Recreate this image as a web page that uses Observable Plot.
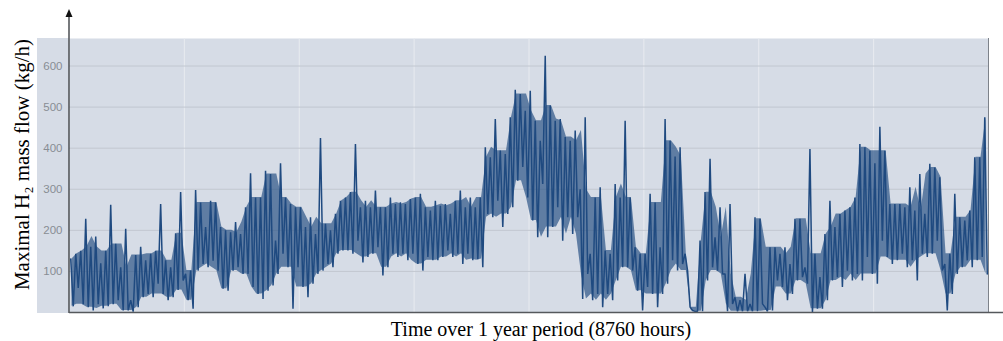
<!DOCTYPE html>
<html><head><meta charset="utf-8">
<script src="https://cdn.jsdelivr.net/npm/d3@7"></script>
<script src="https://cdn.jsdelivr.net/npm/@observablehq/plot@0.6"></script>
<style>
html,body{margin:0;padding:0;background:#fff;}
#chart{width:1003px;height:341px;}
</style></head><body><div id="chart"></div>
<script>
const totalHours = 8760;
const yMax = 667;
const yTicks = [100, 200, 300, 400, 500, 600];
const xGridHours = [1095, 2190, 3285, 4380, 5475, 6570, 7665];
const yLabel = "Maximal H₂ mass flow (kg/h)";
const xLabel = "Time over 1 year period (8760 hours)";

// Upper envelope of the hourly flow, one value per ~48-hour block (kg/h)
const peakFlow = [
  130, 143, 150, 228, 160, 185, 120, 150, 262, 167, 110, 204, 30, 140, 160, 127, 143, 150, 264, 127, 110, 193, 293,
  94, 102, 298, 268, 208, 272, 268, 208, 200, 195, 220, 191, 256, 339, 280, 280, 345, 337, 175, 363, 280, 264, 256,
  256, 208, 232, 191, 425, 216, 200, 240, 272, 280, 293, 410, 256, 272, 256, 297, 256, 256, 280, 264, 268, 264, 276,
  280, 289, 256, 248, 272, 260, 264, 240, 272, 297, 256, 280, 256, 280, 402, 378, 471, 394, 386, 475, 542, 532, 491,
  540, 467, 418, 625, 504, 467, 471, 427, 418, 443, 300, 475, 143, 280, 305, 151, 143, 313, 280, 467, 280, 159, 143,
  143, 289, 268, 159, 471, 418, 380, 402, 143, 13, 3, 175, 293, 374, 183, 256, 94, 264, 37, 30, 94, 21, 232,
  228, 13, 159, 159, 143, 159, 118, 228, 228, 110, 398, 143, 86, 191, 272, 208, 240, 248, 256, 280, 410, 402, 394,
  363, 452, 394, 264, 264, 264, 256, 305, 248, 337, 240, 362, 353, 329, 118, 143, 289, 232, 224, 248, 378, 378, 475
];
// Lower envelope of the hourly flow, same blocks (kg/h)
const lowFlow = [
  15, 60, 20, 13, 5, 20, 10, 15, 20, 30, 5, 5, 2, 13, 37, 45, 37, 70, 45, 30, 37, 55, 78,
  30, 9, 102, 118, 110, 126, 102, 58, 53, 102, 110, 94, 94, 62, 45, 33, 53, 66, 94, 143, 110, 9, 110,
  62, 37, 70, 94, 102, 118, 110, 143, 151, 151, 143, 175, 122, 135, 143, 159, 90, 110, 143, 135, 143, 127, 143,
  118, 102, 135, 127, 127, 135, 151, 135, 143, 118, 143, 127, 130, 110, 240, 232, 272, 208, 240, 256, 321, 354, 280,
  224, 183, 313, 183, 208, 256, 175, 232, 191, 232, 33, 94, 30, 45, 13, 45, 30, 78, 110, 110, 102, 53, 5,
  62, 45, 13, 45, 70, 127, 102, 118, 102, 5, 3, 3, 78, 110, 102, 94, 3, 21, 3, 3, 3, 3, 3,
  21, 3, 5, 78, 62, 30, 45, 78, 86, 70, 0, 9, 9, 30, 78, 86, 62, 102, 78, 94, 78, 135, 94,
  70, 175, 135, 118, 127, 143, 110, 127, 78, 143, 135, 143, 175, 102, 5, 45, 94, 110, 127, 110, 127, 135, 94
];

const n = peakFlow.length;
const blockHours = totalHours / n;
// zigzag through the block extremes
const series = [];
for (let i = 0; i < n; i++) {
  series.push({hour: (i + 0.25) * blockHours, flow: peakFlow[i]});
  series.push({hour: (i + 0.75) * blockHours, flow: lowFlow[i]});
}
// dense body of the daily oscillation: the same extremes with isolated spikes left to the line
const med3 = (a, i) => {
  const v = [a[Math.max(0, i - 1)], a[i], a[Math.min(a.length - 1, i + 1)]].sort((p, q) => p - q);
  return v[1];
};
const band = peakFlow.map((h, i) => {
  const top = med3(peakFlow, i), bottom = med3(lowFlow, i);
  return {hour: (i + 0.5) * blockHours, top: Math.max(top, bottom), bottom: Math.min(top, bottom)};
});

const ink = "#1f4a80";
const chart = Plot.plot({
  width: 1003, height: 341,
  marginLeft: 69, marginRight: 15, marginTop: 38, marginBottom: 29,
  style: {background: "transparent", fontFamily: "'Liberation Sans', Arial, sans-serif", overflow: "visible"},
  x: {domain: [0, totalHours], axis: null},
  y: {domain: [0, yMax], axis: null},
  marks: [
    Plot.frame({fill: "#d6dce6", stroke: null}),
    Plot.gridX(xGridHours, {stroke: "#e8ebf0", strokeOpacity: 1, strokeWidth: 1}),
    Plot.gridY(yTicks, {stroke: "#c2c7d0", strokeOpacity: 1, strokeWidth: 1}),
    Plot.axisY(yTicks, {tickSize: 0, tickPadding: 7, fill: "#888d94", fontSize: 11.5, label: null}),
    Plot.areaY(band, {x: "hour", y1: "bottom", y2: "top", fill: ink, fillOpacity: 0.65}),
    Plot.line(series, {x: "hour", y: "flow", stroke: ink, strokeWidth: 1.5, strokeLinejoin: "miter"}),
    Plot.text([yLabel], {frameAnchor: "left", rotate: -90, textAnchor: "middle", lineAnchor: "middle",
      dx: -47, dy: -11, fontSize: 21, fill: "#000", fontFamily: "'Liberation Serif', 'Times New Roman', serif"}),
    Plot.text([xLabel], {frameAnchor: "bottom", textAnchor: "middle", lineAnchor: "middle",
      dx: 12, dy: 17, fontSize: 20, fill: "#000", fontFamily: "'Liberation Serif', 'Times New Roman', serif"})
  ]
});
document.getElementById("chart").appendChild(chart);

// panel extension, axis lines and arrow
const svg = d3.select(chart);
const xs = chart.scale("x"), ys = chart.scale("y");
const x0 = xs.apply(0), xEnd = xs.apply(totalHours);
const y0 = ys.apply(0), yTop = ys.apply(yMax);
const firstMark = chart.querySelector("g");
svg.insert("rect", () => firstMark)
  .attr("x", 37).attr("y", yTop).attr("width", x0 - 37).attr("height", y0 - yTop + 1)
  .attr("fill", "#d6dce6");
svg.append("line").attr("x1", xEnd + 0.5).attr("x2", xEnd + 0.5).attr("y1", yTop).attr("y2", y0)
  .attr("stroke", "#7d828a").attr("stroke-width", 1);
svg.append("line").attr("x1", x0).attr("x2", 1003).attr("y1", y0 + 0.5).attr("y2", y0 + 0.5)
  .attr("stroke", "#55585c").attr("stroke-width", 1.6);
svg.append("line").attr("x1", x0).attr("x2", x0).attr("y1", y0 + 1).attr("y2", 16)
  .attr("stroke", "#55585c").attr("stroke-width", 1.6);
svg.append("path").attr("d", `M${x0},9 L${x0 - 3.5},17 L${x0 + 3.5},17 Z`).attr("fill", "#111");
</script>
</body></html>
